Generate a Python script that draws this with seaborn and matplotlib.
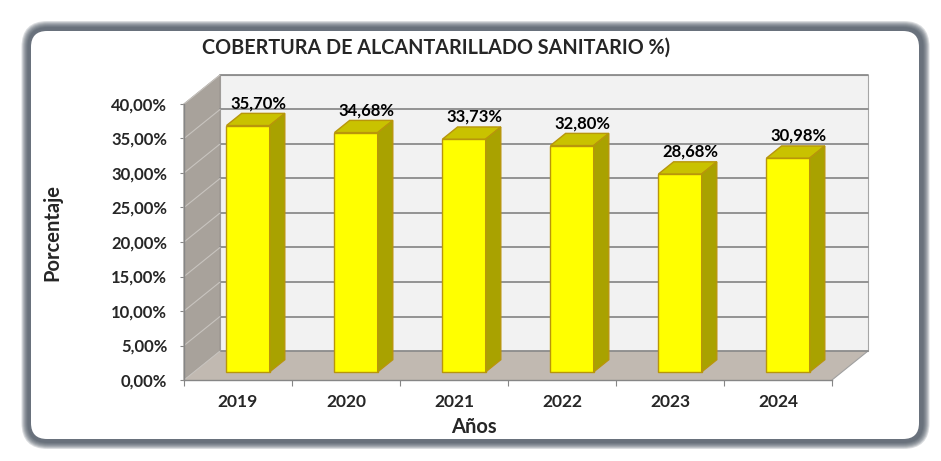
import matplotlib
matplotlib.use('Agg')
import matplotlib.pyplot as plt
import seaborn as sns
import pandas as pd
from matplotlib.patches import Polygon, Rectangle, FancyBboxPatch
from matplotlib.lines import Line2D

# ---------------- data ----------------
years = ['2019', '2020', '2021', '2022', '2023', '2024']
values = [35.70, 34.68, 33.73, 32.80, 28.68, 30.98]
yticks = [0, 5, 10, 15, 20, 25, 30, 35, 40]
title = 'COBERTURA DE ALCANTARILLADO SANITARIO %)'
xlabel = 'Años'
ylabel = 'Porcentaje'


def pct(v):
    return f'{v:.2f}'.replace('.', ',') + '%'


sns.set_style('white')
plt.rcParams['font.family'] = ['Lato', 'DejaVu Sans']

W, H = 941, 461
fig = plt.figure(figsize=(W / 100, H / 100), dpi=100)
fig.patch.set_facecolor('white')

# ---------------- frame ----------------
bg = fig.add_axes([0, 0, 1, 1], zorder=0)
bg.set_xlim(0, W)
bg.set_ylim(H, 0)
bg.axis('off')
for k in range(7):
    bg.add_patch(FancyBboxPatch((27.5 - k, 27 - k), 896 + 2 * k, 416 + 2 * k,
                                boxstyle=f'round,pad=0,rounding_size={20 + k}',
                                fc='#3e4956', ec='none', alpha=0.19))
bg.add_patch(FancyBboxPatch((31, 31), 888, 408, boxstyle='round,pad=0,rounding_size=16',
                            fc='white', ec='none'))

fig.text(436 / W, 1 - 48 / H, title, ha='center', va='center', fontsize=14.2, fontweight='bold')
fig.text(52 / W, 1 - 232 / H, ylabel, ha='center', va='center', rotation=90,
         fontsize=14.5, fontweight='bold')
fig.text(474 / W, 1 - 427 / H, xlabel, ha='center', va='center', fontsize=14.5, fontweight='bold')

# ---------------- main axes ----------------
ax = fig.add_axes([184 / W, 81 / H, 648 / W, 276 / H], zorder=1)
ax.patch.set_alpha(0)

n = len(years)
xmin, xmax = -0.5, n - 0.5
ymax = yticks[-1]
ddx, ddy = 36 / 108, 29 / 6.9          # depth of the 3D box (data units)
fdx, fdy = 0.28 * ddx, 0.28 * ddy      # bar front plane
bdx, bdy = 0.42 * ddx, 0.42 * ddy      # bar depth

# walls & floor
ax.add_patch(Rectangle((xmin + ddx, ddy), xmax - xmin, ymax, fc='#f2f2f2', ec='#a6a6a6',
                       lw=0.8, zorder=0.5, clip_on=False))
ax.add_patch(Polygon([(xmin, 0), (xmin, ymax), (xmin + ddx, ymax + ddy), (xmin + ddx, ddy)],
                     closed=True, fc='#a8a29b', ec='#9a958f', lw=0.8, zorder=0.6, clip_on=False))
ax.add_patch(Polygon([(xmin, 0), (xmax, 0), (xmax + ddx, ddy), (xmin + ddx, ddy)],
                     closed=True, fc='#c1b9b1', ec='none', zorder=0.6, clip_on=False))
ax.add_line(Line2D([xmax, xmax + ddx], [0, ddy], color='#a0a0a0', lw=0.8, zorder=0.7, clip_on=False))
for t in yticks:
    ax.add_line(Line2D([xmin + ddx, xmax + ddx], [t + ddy, t + ddy], color='#8c8c8c', lw=1.3,
                       zorder=0.7, clip_on=False))
    ax.add_line(Line2D([xmin, xmin + ddx], [t, t + ddy], color='#c8c4bf', lw=0.8,
                       zorder=0.7, clip_on=False))

# bars
df = pd.DataFrame({'year': years, 'value': values})
sns.barplot(data=df, x='year', y='value', ax=ax, color='#ffff00', saturation=1, width=0.4,
            edgecolor='#b8960b', linewidth=1.0, zorder=3)
for p in ax.patches[:]:
    if not isinstance(p, Rectangle) or p.get_height() not in values:
        continue
    x0 = p.get_x() + fdx
    p.set_x(x0)
    p.set_y(fdy)
    p.set_clip_on(False)
    x1 = x0 + p.get_width()
    y0 = fdy
    y1 = fdy + p.get_height()
    ax.add_patch(Polygon([(x0, y1), (x1, y1), (x1 + bdx, y1 + bdy), (x0 + bdx, y1 + bdy)],
                         closed=True, fc='#c9c200', ec='#b8960b', lw=1.0, zorder=3, clip_on=False))
    ax.add_patch(Polygon([(x1, y0), (x1, y1), (x1 + bdx, y1 + bdy), (x1 + bdx, y0 + bdy)],
                         closed=True, fc='#a9a200', ec='#b8960b', lw=1.0, zorder=3, clip_on=False))

for i, v in enumerate(values):
    ax.text(i + 0.19, v + 4.4, pct(v), ha='center', va='center', fontsize=12,
            fontweight='bold', color='black', zorder=5, clip_on=False)

ax.set_xlim(xmin, xmax)
ax.set_ylim(0, ymax)
ax.set_xlabel('')
ax.set_ylabel('')
ax.set_yticks(yticks)
ax.set_yticklabels([pct(t) for t in yticks])
ax.set_xticks(range(n))
ax.set_xticklabels(years)
ax.set_xticks([xmin + i for i in range(n + 1)], minor=True)
ax.tick_params(axis='y', left=True, length=3, width=0.8, color='#868686', pad=9,
               labelsize=12)
ax.tick_params(axis='x', which='major', bottom=True, length=0, pad=10, labelsize=12.5)
ax.tick_params(axis='x', which='minor', bottom=True, length=4, width=0.8, color='#868686')
for lab in ax.get_xticklabels() + ax.get_yticklabels():
    lab.set_fontweight('bold')
for s in ['top', 'right']:
    ax.spines[s].set_visible(False)
for s in ['left', 'bottom']:
    ax.spines[s].set_color('#868686')
    ax.spines[s].set_linewidth(1.0)
    ax.spines[s].set_zorder(2)

fig.savefig('out.png', dpi=100)
